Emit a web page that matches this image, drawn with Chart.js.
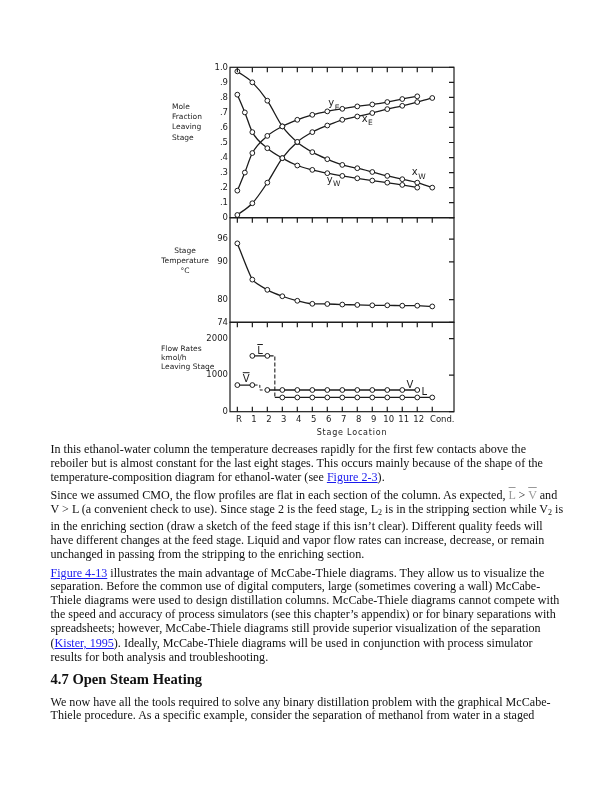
<!DOCTYPE html>
<html>
<head>
<meta charset="utf-8">
<script src="https://cdn.jsdelivr.net/npm/chart.js@4.4.1/dist/chart.umd.min.js"></script>
<style>
body{margin:0;background:#fff;width:614px;height:800px;position:relative;overflow:hidden}
canvas{position:absolute}
.lab{position:absolute;font-family:'DejaVu Sans',sans-serif;font-size:7.5px;color:#222;line-height:10px;white-space:nowrap}
.txt{position:absolute;left:50.5px;font-family:'Liberation Serif',serif;font-size:12.1px;line-height:14px;white-space:nowrap;color:#111}
.txt a{color:#1a1aee;text-decoration:underline}
.ov{text-decoration:overline;color:#999}
.txt sub{font-size:8px;vertical-align:-2px;line-height:0}
h2{position:absolute;left:50.5px;margin:0;font-family:'Liberation Serif',serif;font-size:14.6px;font-weight:bold;line-height:20px;white-space:nowrap;color:#111}
</style>
</head>
<body>
<canvas id="c1" width="330" height="170" style="left:140px;top:55px"></canvas>
<canvas id="c2" width="330" height="120" style="left:140px;top:210px"></canvas>
<canvas id="c3" width="330" height="130" style="left:140px;top:314px"></canvas>

<div class="lab" style="left:172px;top:102px">Mole</div>
<div class="lab" style="left:172px;top:112px">Fraction</div>
<div class="lab" style="left:172px;top:122px">Leaving</div>
<div class="lab" style="left:172px;top:133px">Stage</div>

<div class="lab" style="left:145px;width:80px;text-align:center;top:246px">Stage</div>
<div class="lab" style="left:145px;width:80px;text-align:center;top:256px">Temperature</div>
<div class="lab" style="left:145px;width:80px;text-align:center;top:266px">°C</div>

<div class="lab" style="left:161px;top:344px">Flow Rates</div>
<div class="lab" style="left:161px;top:353px">kmol/h</div>
<div class="lab" style="left:161px;top:362px">Leaving Stage</div>

<div class="lab" style="left:302px;width:100px;text-align:center;top:428px;font-size:8px;letter-spacing:0.8px">Stage Location</div>

<div class="txt" style="top:442px">In this ethanol-water column the temperature decreases rapidly for the first few contacts above the</div>
<div class="txt" style="top:456px">reboiler but is almost constant for the last eight stages. This occurs mainly because of the shape of the</div>
<div class="txt" style="top:470px">temperature-composition diagram for ethanol-water (see <a>Figure 2-3</a>).</div>

<div class="txt" style="top:488px">Since we assumed CMO, the flow profiles are flat in each section of the column. As expected, <span class="ov">L</span> &gt; <span class="ov">V</span> and</div>
<div class="txt" style="top:502px">V &gt; L (a convenient check to use). Since stage 2 is the feed stage, L<sub>2</sub> is in the stripping section while V<sub>2</sub> is</div>
<div class="txt" style="top:519px">in the enriching section (draw a sketch of the feed stage if this isn’t clear). Different quality feeds will</div>
<div class="txt" style="top:533px">have different changes at the feed stage. Liquid and vapor flow rates can increase, decrease, or remain</div>
<div class="txt" style="top:547px">unchanged in passing from the stripping to the enriching section.</div>

<div class="txt" style="top:566px"><a>Figure 4-13</a> illustrates the main advantage of McCabe-Thiele diagrams. They allow us to visualize the</div>
<div class="txt" style="top:579px">separation. Before the common use of digital computers, large (sometimes covering a wall) McCabe-</div>
<div class="txt" style="top:593px">Thiele diagrams were used to design distillation columns. McCabe-Thiele diagrams cannot compete with</div>
<div class="txt" style="top:607px">the speed and accuracy of process simulators (see this chapter’s appendix) or for binary separations with</div>
<div class="txt" style="top:621px">spreadsheets; however, McCabe-Thiele diagrams still provide superior visualization of the separation</div>
<div class="txt" style="top:636px">(<a>Kister, 1995</a>). Ideally, McCabe-Thiele diagrams will be used in conjunction with process simulator</div>
<div class="txt" style="top:650px">results for both analysis and troubleshooting.</div>

<h2 style="top:669px">4.7 Open Steam Heating</h2>

<div class="txt" style="top:695px">We now have all the tools required to solve any binary distillation problem with the graphical McCabe-</div>
<div class="txt" style="top:708px">Thiele procedure. As a specific example, consider the separation of methanol from water in a staged</div>

<script>
const ink = '#1c1c1c';

// stage axis
const stageLabels = ['R', '1', '2', '3', '4', '5', '6', '7', '8', '9', '10', '11', '12', 'Cond.'];
const stagePos = [0, 1, 2, 3, 4, 5, 6, 7, 8, 9, 10, 11, 12, 13];
const vapPos = [0, 0.5, 1, 2, 3, 4, 5, 6, 7, 8, 9, 10, 11, 12];

// mole fractions leaving stage
const yE = [0.18, 0.30, 0.43, 0.544, 0.607, 0.651, 0.684, 0.707, 0.724, 0.74, 0.753, 0.769, 0.789, 0.807];
const yW = [0.818, 0.70, 0.569, 0.462, 0.396, 0.347, 0.318, 0.296, 0.278, 0.262, 0.247, 0.233, 0.218, 0.20];
const xE = [0.018, 0.096, 0.233, 0.396, 0.504, 0.569, 0.613, 0.651, 0.673, 0.696, 0.722, 0.744, 0.769, 0.796];
const xW = [0.973, 0.90, 0.778, 0.607, 0.502, 0.436, 0.389, 0.351, 0.329, 0.304, 0.278, 0.256, 0.233, 0.20];
const moleTicks = [0, 0.1, 0.2, 0.3, 0.4, 0.5, 0.6, 0.7, 0.8, 0.9, 1.0];
const moleTickLabels = ['0', '.1', '.2', '.3', '.4', '.5', '.6', '.7', '.8', '.9', '1.0'];

// stage temperature, deg C
const temp = [94.9, 85.3, 82.6, 80.9, 79.7, 78.9, 78.85, 78.7, 78.6, 78.5, 78.5, 78.4, 78.4, 78.2];
const tempTicks = [74, 80, 90, 96];
const tempTickLabels = ['74', '80', '90', '96'];

// flow rates, kmol/h
const vBarPos = [0, 1];
const vBar = [730, 730];
const lBarPos = [1, 2];
const lBar = [1530, 1530];
const vPos = [2, 3, 4, 5, 6, 7, 8, 9, 10, 11, 12];
const vFlow = [595, 595, 595, 595, 595, 595, 595, 595, 595, 595, 595];
const lPos = [2.5, 3, 4, 5, 6, 7, 8, 9, 10, 11, 12, 13];
const lFlow = [390, 390, 390, 390, 390, 390, 390, 390, 390, 390, 390, 390];
const vStepPos = [1.15, 1.5, 1.5, 1.85];
const vStep = [730, 730, 595, 595];
const lStepPos = [2.15, 2.5, 2.5];
const lStep = [1530, 1530, 390];
const flowTicks = [0, 1000, 2000];
const flowTickLabels = ['0', '1000', '2000'];

function pts(xs, ys) {
  return xs.map((v, i) => ({x: v, y: ys[i]}));
}

function curve(xs, ys, extra) {
  return Object.assign({
    data: pts(xs, ys),
    borderColor: ink,
    borderWidth: 1.3,
    pointRadius: 2.4,
    pointBorderWidth: 1,
    pointBorderColor: ink,
    pointBackgroundColor: '#fff',
    tension: 0,
    fill: false
  }, extra || {});
}

const frame = {
  id: 'frame',
  afterDraw(chart, args, opts) {
    const {ctx, chartArea: a, scales: {x, y}} = chart;
    ctx.save();
    ctx.strokeStyle = ink;
    ctx.lineWidth = 1.2;
    ctx.strokeRect(a.left, a.top, a.right - a.left, a.bottom - a.top);
    ctx.beginPath();
    stagePos.forEach(v => {
      const px = x.getPixelForValue(v);
      ctx.moveTo(px, a.top);
      ctx.lineTo(px, a.top + 5);
      if (opts.bottomTicks) {
        ctx.moveTo(px, a.bottom);
        ctx.lineTo(px, a.bottom - 5);
      }
    });
    (opts.yTicks || []).forEach(v => {
      const py = y.getPixelForValue(v);
      ctx.moveTo(a.right, py);
      ctx.lineTo(a.right - 5, py);
    });
    ctx.stroke();
    ctx.restore();
  }
};

const curveLabels = {
  id: 'curveLabels',
  afterDatasetsDraw(chart, args, opts) {
    const {ctx, scales: {x, y}} = chart;
    ctx.save();
    ctx.fillStyle = ink;
    ctx.strokeStyle = ink;
    ctx.lineWidth = 1;
    ctx.textBaseline = 'middle';
    (opts.items || []).forEach(it => {
      const px = x.getPixelForValue(it.x);
      const py = y.getPixelForValue(it.y);
      ctx.font = '10px "DejaVu Sans"';
      ctx.fillText(it.text, px, py);
      const w = ctx.measureText(it.text).width;
      if (it.bar) {
        ctx.beginPath();
        ctx.moveTo(px, py - 7);
        ctx.lineTo(px + w, py - 7);
        ctx.stroke();
      }
      if (it.sub) {
        ctx.font = '7.5px "DejaVu Sans"';
        ctx.fillText(it.sub, px + w + 0.5, py + 4);
      }
    });
    ctx.restore();
  }
};

function opts(o) {
  return {
    responsive: false,
    animation: false,
    layout: {padding: o.padding},
    plugins: {
      legend: {display: false},
      tooltip: {enabled: false},
      frame: {yTicks: o.yTicks, bottomTicks: o.bottomTicks},
      curveLabels: {items: o.labels}
    },
    scales: {
      x: {
        type: 'linear',
        min: -0.49,
        max: 14.45,
        display: o.xDisplay,
        grid: {display: false, drawTicks: false},
        border: {display: false},
        afterBuildTicks: s => { s.ticks = stagePos.map(v => ({value: v})); },
        afterFit: s => { if (o.xHeight) s.height = o.xHeight; },
        ticks: {
          autoSkip: false,
          maxRotation: 0,
          padding: 3,
          labelOffset: 1.5,
          color: ink,
          font: {family: 'DejaVu Sans', size: 8.5},
          // the condenser label sits to the right of its tick in the original
          callback: (v, i) => i === stageLabels.length - 1 ? '\u2003\u2003' + stageLabels[i] : stageLabels[i]
        }
      },
      y: {
        type: 'linear',
        min: o.yMin,
        max: o.yMax,
        grid: {display: false, drawTicks: false},
        border: {display: false},
        afterBuildTicks: s => { s.ticks = o.yTicks.map(v => ({value: v})); },
        afterFit: s => { s.width = 90; },
        ticks: {
          padding: 2,
          color: ink,
          font: {family: 'DejaVu Sans', size: 8.5},
          callback: (v, i) => o.yLabels[i]
        }
      }
    }
  };
}

new Chart(document.getElementById('c1'), {
  type: 'line',
  data: {
    datasets: [
      curve(vapPos, yE, {cubicInterpolationMode: 'monotone'}),
      curve(vapPos, yW, {cubicInterpolationMode: 'monotone'}),
      curve(stagePos, xE, {cubicInterpolationMode: 'monotone'}),
      curve(stagePos, xW, {cubicInterpolationMode: 'monotone'})
    ]
  },
  options: opts({
    padding: {top: 12.3, bottom: 7.3, right: 16, left: 0},
    yMin: 0, yMax: 1, yTicks: moleTicks, yLabels: moleTickLabels,
    xDisplay: false,
    labels: [
      {text: 'y', sub: 'E', x: 6.07, y: 0.758},
      {text: 'x', sub: 'E', x: 8.29, y: 0.656},
      {text: 'x', sub: 'W', x: 11.63, y: 0.30},
      {text: 'y', sub: 'W', x: 5.96, y: 0.251}
    ]
  }),
  plugins: [frame, curveLabels]
});

new Chart(document.getElementById('c2'), {
  type: 'line',
  data: {
    datasets: [curve(stagePos, temp, {tension: 0.15})]
  },
  options: opts({
    padding: {top: 7.7, bottom: 7.7, right: 16, left: 0},
    yMin: 74, yMax: 101.7, yTicks: tempTicks, yLabels: tempTickLabels,
    xDisplay: false,
    labels: []
  }),
  plugins: [frame, curveLabels]
});

new Chart(document.getElementById('c3'), {
  type: 'line',
  data: {
    datasets: [
      curve(vBarPos, vBar),
      curve(lBarPos, lBar),
      curve(vPos, vFlow),
      curve(lPos, lFlow, {pointRadius: c => c.dataIndex === 0 ? 0 : 2.4}),
      curve(vStepPos, vStep, {pointRadius: 0, borderWidth: 1, borderDash: [3, 2]}),
      curve(lStepPos, lStep, {pointRadius: 0, borderWidth: 1.1, borderDash: [4, 2]})
    ]
  },
  options: opts({
    padding: {top: 8.3, bottom: 0, right: 16, left: 0},
    yMin: 0, yMax: 2450, yTicks: flowTicks, yLabels: flowTickLabels,
    xDisplay: true, xHeight: 32.3, bottomTicks: true,
    labels: [
      {text: 'L', bar: true, x: 1.33, y: 1649},
      {text: 'V', bar: true, x: 0.36, y: 877},
      {text: 'V', x: 11.29, y: 723},
      {text: 'L', x: 12.29, y: 518}
    ]
  }),
  plugins: [frame, curveLabels]
});
</script>
</body>
</html>
